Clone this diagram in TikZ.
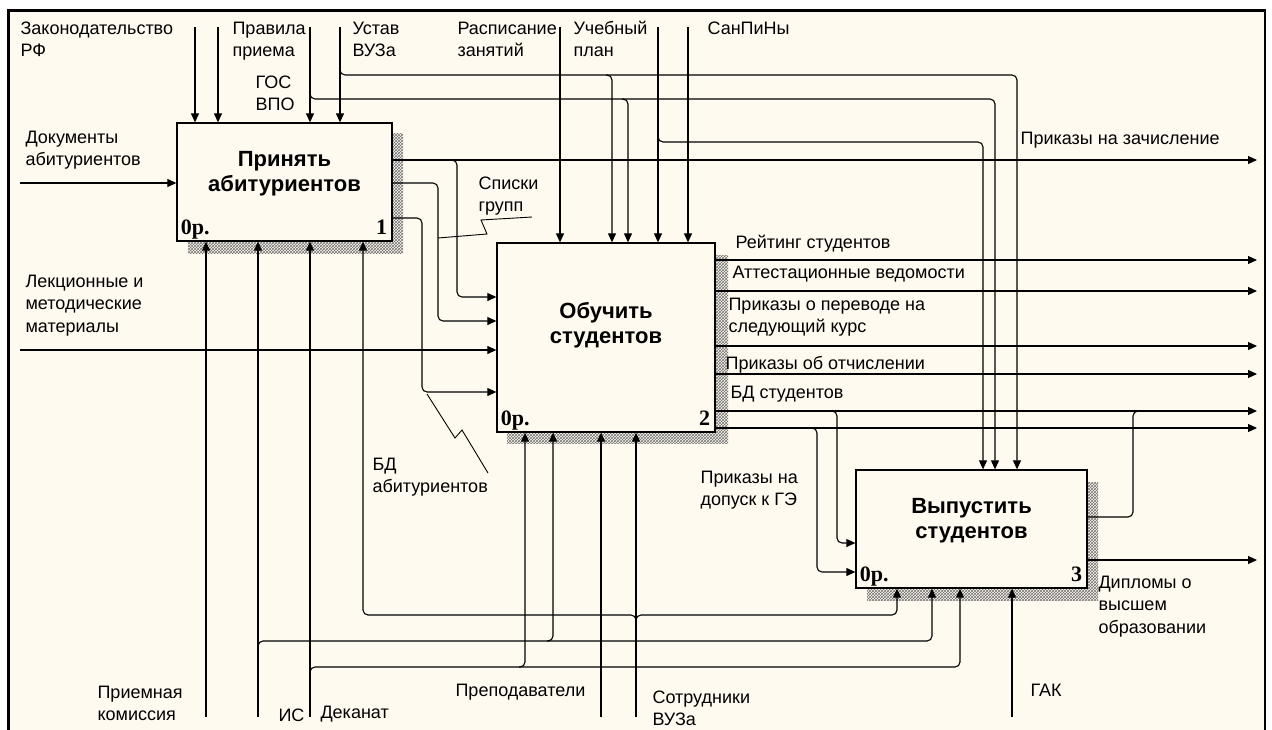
\documentclass[tikz,border=0pt]{standalone}
\usepackage{fontspec}
\setmainfont{Liberation Sans}
\newfontfamily\numfont{Liberation Serif}
\usetikzlibrary{arrows.meta,patterns,calc}
\definecolor{cream}{RGB}{255,250,240}
\begin{document}
\begin{tikzpicture}[x=1pt,y=-1pt,line width=1.1pt,
  arr/.style={-{Triangle[length=9pt,width=8pt]}},
  rc/.style={rounded corners=5pt},
  box/.style={draw,line width=1.3pt,fill=cream,inner sep=0pt},
  shade/.style={pattern=crosshatch,pattern color=black!55},
  ttl/.style={font=\fontsize{22}{25}\selectfont\bfseries,align=center,anchor=base,inner sep=0pt},
  num/.style={font=\fontsize{22}{22}\selectfont\numfont\bfseries,inner sep=0pt},
  lab/.style={font=\fontsize{18}{22.5}\selectfont,align=left,anchor=base west,inner sep=0pt},
  squig/.style={line width=0.9pt}]
\useasboundingbox (0,0) rectangle (1272,729);
\clip (0,0) rectangle (1272,729);
\fill[white] (0,0) rectangle (1272,729);
\draw[line width=2.6pt,fill=cream] (8.5,10.5) rectangle (1265,760);
% shadows
\fill[shade] (188,133) rectangle (403,253);
\fill[shade] (507,255) rectangle (728,443);
\fill[shade] (867,482) rectangle (1098,600);
% boxes
\node[box,minimum width=215pt,minimum height=118pt] (b1) at (284.5,182) {};
\node[box,minimum width=218pt,minimum height=189pt] (b2) at (606,337.5) {};
\node[box,minimum width=231pt,minimum height=118pt] (b3) at (971.5,529) {};
\node[ttl] (t1) at (284.5,191) {Принять\\абитуриентов};
\node[ttl] (t2) at (606,343) {Обучить\\студентов};
\node[ttl] (t3) at (971.5,538) {Выпустить\\студентов};
\node[num,anchor=base west] (n1a) at ($(b1.south west)+(4,-7)$) {0р.};
\node[num,anchor=base east] (n1b) at ($(b1.south east)+(-5,-7)$) {1};
\node[num,anchor=base west] (n2a) at ($(b2.south west)+(4,-7)$) {0р.};
\node[num,anchor=base east] (n2b) at ($(b2.south east)+(-5,-7)$) {2};
\node[num,anchor=base west] (n3a) at ($(b3.south west)+(4,-7)$) {0р.};
\node[num,anchor=base east] (n3b) at ($(b3.south east)+(-5,-7)$) {3};
% controls
\coordinate (cZak) at (195,27);
\coordinate (cPrav) at (218,27);
\coordinate (cGos) at (310,27);
\coordinate (cUst) at (340,27);
\coordinate (cRasp) at (560,27);
\coordinate (cUch) at (658,27);
\coordinate (cSan) at (688,27);
\draw[arr] (cZak) -- (cZak |- b1.north);
\draw[arr] (cPrav) -- (cPrav |- b1.north);
\draw[arr] (cGos) -- (cGos |- b1.north);
\draw[arr] (cUst) -- (cUst |- b1.north);
\draw[arr] (cRasp) -- (cRasp |- b2.north);
\draw[arr] (cUch) -- (cUch |- b2.north);
\draw[arr] (cSan) -- (cSan |- b2.north);
\draw[arr,rc] (340,69) -- (340,75) -- (1017,75) -- (b3.north -| 1017,0);
\draw[arr,rc] (606,75) -- (612,75) -- (b2.north -| 612,0);
\draw[arr,rc] (310,93) -- (310,99) -- (995,99) -- (b3.north -| 995,0);
\draw[arr,rc] (622,99) -- (628,99) -- (b2.north -| 628,0);
\draw[arr,rc] (658,136) -- (658,142) -- (983,142) -- (b3.north -| 983,0);
% inputs
\coordinate (iDoc) at (20,183);
\coordinate (iLek) at (20,350);
\draw[arr] (iDoc) -- (iDoc -| b1.west);
\draw[arr] (iLek) -- (iLek -| b2.west);
% outputs of box 1
\coordinate (oZach) at (1257,160);
\draw[arr] (b1.east |- oZach) -- (oZach);
\draw[arr,rc] (451,160) -- (457,160) -- (457,297) -- (b2.west |- 0,297);
\draw[arr,rc] (b1.east |- 0,183) -- (438,183) -- (438,321) -- (b2.west |- 0,321);
\draw[arr,rc] (b1.east |- 0,218) -- (422,218) -- (422,392) -- (b2.west |- 0,392);
\draw[squig] (438,238) -- (487,234) -- (481,220) -- (532,217);
\draw[squig] (427,394) -- (455,438) -- (462,430) -- (488,473);
% outputs of box 2
\coordinate (oRe) at (1257,260);
\coordinate (oAt) at (1257,291);
\coordinate (oPe) at (1257,346);
\coordinate (oOt) at (1257,374);
\coordinate (oBD) at (1257,411);
\coordinate (oDo) at (1257,428);
\draw[arr] (b2.east |- oRe) -- (oRe);
\draw[arr] (b2.east |- oAt) -- (oAt);
\draw[arr] (b2.east |- oPe) -- (oPe);
\draw[arr] (b2.east |- oOt) -- (oOt);
\draw[arr] (b2.east |- oBD) -- (oBD);
\draw[arr] (b2.east |- oDo) -- (oDo);
\draw[arr,rc] (831,411) -- (837,411) -- (837,543) -- (b3.west |- 0,543);
\draw[arr,rc] (811,428) -- (817,428) -- (817,572) -- (b3.west |- 0,572);
% outputs of box 3
\draw[rc] (b3.east |- 0,517) -- (1133,517) -- (1133,411) -- (1139,411);
\coordinate (oDip) at (1257,560);
\draw[arr] (b3.east |- oDip) -- (oDip);
% mechanisms
\coordinate (mPri) at (206,717);
\coordinate (mIS) at (258,717);
\coordinate (mDek) at (310,717);
\coordinate (mPrep) at (601,717);
\coordinate (mSot) at (636,717);
\coordinate (mGak) at (1012,717);
\draw[arr] (mPri) -- (mPri |- b1.south);
\draw[arr] (mIS) -- (mIS |- b1.south);
\draw[arr] (mDek) -- (mDek |- b1.south);
\draw[arr] (mPrep) -- (mPrep |- b2.south);
\draw[arr] (mSot) -- (mSot |- b2.south);
\draw[arr] (mGak) -- (mGak |- b3.south);
\draw[arr,rc] (258,647) -- (258,641) -- (932,641) -- (b3.south -| 932,0);
\draw[arr,rc] (547,641) -- (553,641) -- (b2.south -| 553,0);
\draw[arr,rc] (310,673) -- (310,667) -- (960,667) -- (b3.south -| 960,0);
\draw[arr,rc] (519,667) -- (525,667) -- (b2.south -| 525,0);
\draw[arr,rc] (636,621) -- (636,615) -- (897,615) -- (b3.south -| 897,0);
\draw[arr,rc] (636,621) -- (636,615) -- (363,615) -- (b1.south -| 363,0);
% labels (anchor = baseline of the last line)
\node[lab] (lZak) at (20,56.5) {Законодательство\\РФ};
\node[lab] (lPrav) at (232,56.5) {Правила\\приема};
\node[lab] (lGos) at (255,110.5) {ГОС\\ВПО};
\node[lab] (lUst) at (352,56.5) {Устав\\ВУЗа};
\node[lab] (lRasp) at (457,56.5) {Расписание\\занятий};
\node[lab] (lUch) at (573,56.5) {Учебный\\план};
\node[lab] (lSan) at (707,34) {СанПиНы};
\node[lab] (lDoc) at (25,165.5) {Документы\\абитуриентов};
\node[lab] (lLek) at (25,332) {Лекционные и\\методические\\материалы};
\node[lab] (lSpis) at (478,211.5) {Списки\\групп};
\node[lab] (lZach) at (1020,144) {Приказы на зачисление};
\node[lab] (lRe) at (735,248) {Рейтинг студентов};
\node[lab] (lAt) at (732,278) {Аттестационные ведомости};
\node[lab] (lPe) at (728,332.5) {Приказы о переводе на\\следующий курс};
\node[lab] (lOt) at (725,369) {Приказы об отчислении};
\node[lab] (lBDs) at (730,398) {БД студентов};
\node[lab] (lDo) at (700,505.5) {Приказы на\\допуск к ГЭ};
\node[lab] (lBDa) at (372,492.5) {БД\\абитуриентов};
\node[lab] (lDip) at (1098,633) {Дипломы о\\высшем\\образовании};
\node[lab] (lPri) at (97,720.5) {Приемная\\комиссия};
\node[lab] (lIS) at (278,721) {ИС};
\node[lab] (lDek) at (320,718) {Деканат};
\node[lab] (lPrep) at (455,696) {Преподаватели};
\node[lab] (lSot) at (652,725.5) {Сотрудники\\ВУЗа};
\node[lab] (lGak) at (1030,696) {ГАК};
\end{tikzpicture}
\end{document}
